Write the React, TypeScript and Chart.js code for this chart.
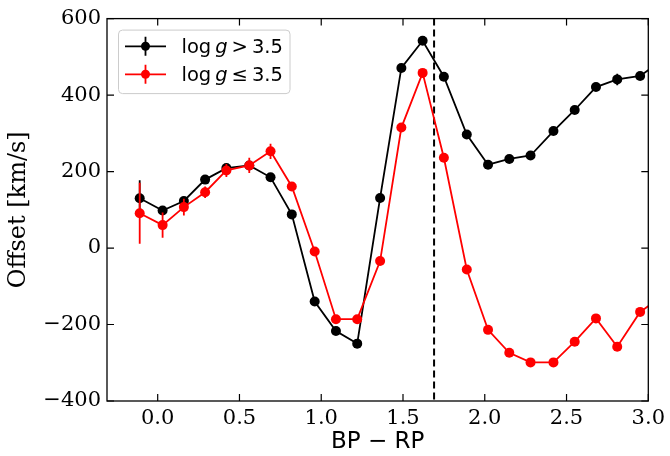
import React, { useEffect, useRef } from "react";
import { Chart, registerables } from "chart.js";

Chart.register(...registerables);

// ---- data ----
const bpRp = [-0.11, 0.03, 0.16, 0.29, 0.42, 0.56, 0.69, 0.82, 0.96, 1.09, 1.22, 1.36, 1.49, 1.62, 1.75, 1.89, 2.02, 2.15, 2.28, 2.42, 2.55, 2.68, 2.81, 2.95, 3.08];
const offsetHighG = [130, 98, 123, 179, 209, 216, 185, 88, -140, -217, -250, 131, 471, 542, 448, 297, 218, 233, 242, 306, 361, 421, 441, 450, 490];
const errHighG = [47, 8, 8, 8, 10, 10, 8, 8, 8, 8, 8, 8, 8, 8, 8, 8, 8, 8, 8, 8, 8, 8, 15, 10, 10];
const offsetLowG = [91, 60, 107, 146, 203, 216, 253, 161, -9, -186, -186, -34, 315, 458, 236, -56, -214, -274, -299, -299, -245, -184, -258, -167, -128];
const errLowG = [80, 33, 22, 15, 17, 20, 20, 10, 8, 8, 8, 8, 8, 8, 8, 8, 8, 8, 8, 8, 8, 8, 8, 8, 8];
const xTicks = [0, 0.5, 1, 1.5, 2, 2.5, 3];
const yTicks = [-400, -200, 0, 200, 400, 600];
const dividerX = 1.69;
const legendRelations = [">", "\u2264"];
const legendThreshold = "3.5";
const seriesColors = ["#000000", "#ff0000"];

const errorSets = [errHighG, errLowG];

const errorBarPlugin = {
  id: "errorBars",
  beforeDatasetDraw(chart: any, args: any) {
    const idx = args.index;
    const meta = args.meta;
    const errs = errorSets[idx];
    const vals = idx === 0 ? offsetHighG : offsetLowG;
    if (!errs) return;
    const { ctx, chartArea } = chart;
    const ys = chart.scales.y;
    ctx.save();
    ctx.beginPath();
    ctx.rect(chartArea.left, chartArea.top, chartArea.right - chartArea.left, chartArea.bottom - chartArea.top);
    ctx.clip();
    ctx.strokeStyle = seriesColors[idx];
    ctx.lineWidth = 1.8;
    meta.data.forEach((pt: any, i: number) => {
      const y1 = ys.getPixelForValue(vals[i] - errs[i]);
      const y2 = ys.getPixelForValue(vals[i] + errs[i]);
      ctx.beginPath();
      ctx.moveTo(pt.x, y1);
      ctx.lineTo(pt.x, y2);
      ctx.stroke();
    });
    ctx.restore();
  },
};

const decorPlugin = {
  id: "decor",
  beforeDatasetsDraw(chart: any) {
    const { ctx, chartArea } = chart;
    const xs = chart.scales.x;
    const px = xs.getPixelForValue(dividerX);
    ctx.save();
    ctx.strokeStyle = "#000";
    ctx.lineWidth = 2;
    ctx.setLineDash([7, 4]);
    ctx.beginPath();
    ctx.moveTo(px, chartArea.top);
    ctx.lineTo(px, chartArea.bottom);
    ctx.stroke();
    ctx.restore();
  },
  afterDatasetsDraw(chart: any) {
    const { ctx, chartArea } = chart;
    const xs = chart.scales.x;
    const ys = chart.scales.y;
    const { left, right, top, bottom } = chartArea;
    ctx.save();
    ctx.strokeStyle = "#000";
    ctx.lineWidth = 1.3;
    ctx.strokeRect(left, top, right - left, bottom - top);
    ctx.lineWidth = 1.2;
    const tl = 7;
    xTicks.forEach((v) => {
      const p = xs.getPixelForValue(v);
      ctx.beginPath();
      ctx.moveTo(p, bottom);
      ctx.lineTo(p, bottom - tl);
      ctx.moveTo(p, top);
      ctx.lineTo(p, top + tl);
      ctx.stroke();
    });
    yTicks.forEach((v) => {
      const p = ys.getPixelForValue(v);
      ctx.beginPath();
      ctx.moveTo(left, p);
      ctx.lineTo(left + tl, p);
      ctx.moveTo(right, p);
      ctx.lineTo(right - tl, p);
      ctx.stroke();
    });
    ctx.restore();
  },
  afterDraw(chart: any) {
    const { ctx, chartArea } = chart;
    const bx = chartArea.left + 11.5;
    const by = chartArea.top + 11.5;
    const bw = 171.5;
    const bh = 63.5;
    ctx.save();
    ctx.fillStyle = "rgba(255,255,255,0.8)";
    ctx.strokeStyle = "#cccccc";
    ctx.lineWidth = 1;
    ctx.beginPath();
    ctx.roundRect(bx, by, bw, bh, 4);
    ctx.fill();
    ctx.stroke();
    const rows = [by + 16.2, by + 44.2];
    rows.forEach((ry, i) => {
      const c = seriesColors[i];
      ctx.strokeStyle = c;
      ctx.fillStyle = c;
      ctx.lineWidth = 1.8;
      ctx.beginPath();
      ctx.moveTo(bx + 6.5, ry);
      ctx.lineTo(bx + 47.5, ry);
      ctx.moveTo(bx + 27, ry - 9.5);
      ctx.lineTo(bx + 27, ry + 9.5);
      ctx.stroke();
      ctx.beginPath();
      ctx.arc(bx + 27, ry, 4.5, 0, Math.PI * 2);
      ctx.fill();
      // text
      let tx = bx + 63;
      const base = ry + 6.6;
      ctx.fillStyle = "#000";
      ctx.textBaseline = "alphabetic";
      ctx.textAlign = "left";
      ctx.font = "19.5px 'DejaVu Sans'";
      ctx.fillText("log", tx, base);
      tx += ctx.measureText("log").width + 4;
      ctx.font = "oblique 19.5px 'DejaVu Sans'";
      ctx.fillText("g", tx, base);
      tx += ctx.measureText("g").width + 4;
      ctx.font = "19.5px 'DejaVu Sans'";
      ctx.fillText(legendRelations[i], tx, base);
      tx += ctx.measureText(legendRelations[i]).width + 4;
      ctx.fillText(legendThreshold, tx, base);
    });
    ctx.restore();
  },
};

export default function App() {
  const ref = useRef<HTMLCanvasElement | null>(null);
  useEffect(() => {
    if (!ref.current) return;
    const chart = new Chart(ref.current, {
      type: "line",
      data: {
        datasets: [
          {
            label: "log g > 3.5",
            data: bpRp.map((x, i) => ({ x, y: offsetHighG[i] })),
            borderColor: seriesColors[0],
            backgroundColor: seriesColors[0],
            pointBackgroundColor: seriesColors[0],
            pointBorderWidth: 0,
            pointRadius: 5,
            borderWidth: 1.8,
            tension: 0,
            clip: 0,
            order: 2,
          },
          {
            label: "log g \u2264 3.5",
            data: bpRp.map((x, i) => ({ x, y: offsetLowG[i] })),
            borderColor: seriesColors[1],
            backgroundColor: seriesColors[1],
            pointBackgroundColor: seriesColors[1],
            pointBorderWidth: 0,
            pointRadius: 5,
            borderWidth: 1.8,
            tension: 0,
            clip: 0,
            order: 1,
          },
        ],
      },
      options: {
        animation: false,
        responsive: false,
        devicePixelRatio: 1,
        layout: { padding: { top: 15, right: 19, left: 0, bottom: 0 } },
        plugins: { legend: { display: false }, tooltip: { enabled: false } },
        scales: {
          x: {
            type: "linear",
            min: -0.31,
            max: 3.0,
            afterBuildTicks: (s: any) => {
              s.ticks = xTicks.map((v) => ({ value: v }));
            },
            afterFit: (s: any) => {
              s.height = 55;
            },
            grid: { display: false, drawTicks: false },
            border: { display: false },
            ticks: {
              padding: 5,
              color: "#000",
              font: { family: "'DejaVu Serif'", size: 21 },
              maxRotation: 0,
              callback: (v: any) => Number(v).toFixed(1),
            },
            title: {
              display: true,
              text: "BP \u2212 RP",
              color: "#000",
              font: { family: "'DejaVu Sans'", size: 23 },
              padding: { top: 0, bottom: 0 },
            },
          },
          y: {
            type: "linear",
            min: -400,
            max: 600,
            afterBuildTicks: (s: any) => {
              s.ticks = yTicks.map((v) => ({ value: v }));
            },
            afterFit: (s: any) => {
              s.width = 107;
            },
            grid: { display: false, drawTicks: false },
            border: { display: false },
            ticks: {
              padding: 6,
              color: "#000",
              font: { family: "'DejaVu Serif'", size: 21 },
              callback: (v: any) => String(v).replace("-", "\u2212"),
            },
            title: {
              display: true,
              text: "Offset [km/s]",
              color: "#000",
              font: { family: "'DejaVu Serif'", size: 24 },
              padding: { top: 4, bottom: 0 },
            },
          },
        },
      },
      plugins: [errorBarPlugin, decorPlugin],
    } as any);
    return () => chart.destroy();
  }, []);
  return (
    <div style={{ position: "absolute", left: 0, top: 0, width: 670, height: 456, background: "#fff" }}>
      <canvas ref={ref} width={670} height={456} style={{ display: "block" }} />
    </div>
  );
}
